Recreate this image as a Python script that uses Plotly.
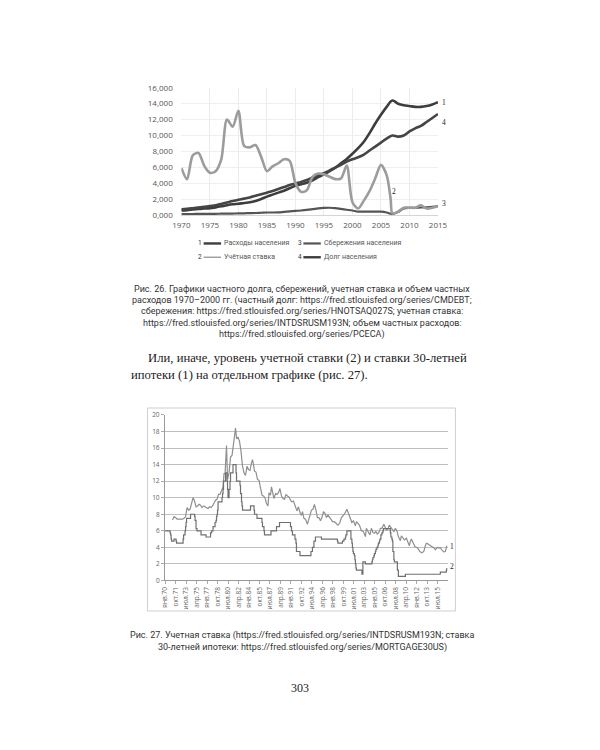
import plotly.graph_objects as go

W, H = 600, 750
def PX(x): return x / W
def PY(y): return 1 - y / H

# ---------------- Chart 1 data (Рис. 26), values in thousands ----------------
years1 = list(range(1970, 2016))
spend = [0.55, 0.6, 0.68, 0.75, 0.8, 0.85, 0.95, 1.08, 1.22, 1.33, 1.4, 1.5, 1.58, 1.75, 2.0,
         2.3, 2.55, 2.8, 3.05, 3.35, 3.65, 3.85, 4.05, 4.35, 4.75, 5.1, 5.5, 5.95, 6.5, 7.05,
         7.7, 8.4, 9.2, 10.3, 11.5, 12.6, 13.6, 14.4, 14.0, 13.8, 13.7, 13.6, 13.6, 13.7, 13.9, 14.2]
debt = [0.7, 0.76, 0.84, 0.93, 1.02, 1.1, 1.22, 1.38, 1.56, 1.75, 1.9, 2.05, 2.2, 2.4, 2.6,
        2.8, 3.0, 3.25, 3.5, 3.75, 3.95, 4.15, 4.4, 4.7, 5.0, 5.25, 5.6, 5.95, 6.3, 6.7,
        7.0, 7.25, 7.6, 8.1, 8.6, 9.1, 9.6, 10.0, 9.85, 10.0, 10.5, 10.9, 11.2, 11.7, 12.2, 12.7]
savings = [0.1, 0.1, 0.11, 0.12, 0.12, 0.13, 0.14, 0.15, 0.16, 0.17, 0.18, 0.2, 0.22, 0.24, 0.27,
           0.3, 0.3, 0.32, 0.38, 0.44, 0.5, 0.55, 0.62, 0.72, 0.82, 0.88, 0.9, 0.85, 0.75, 0.65,
           0.55, 0.42, 0.4, 0.42, 0.42, 0.4, 0.3, 0.12, 0.35, 0.8, 0.9, 0.9, 0.95, 0.95, 1.0, 1.1]
rate_years = [1970, 1971, 1972, 1973, 1974, 1975, 1976, 1977, 1978, 1979, 1980, 1981, 1982, 1983,
              1984, 1985, 1986, 1987, 1988, 1989, 1990, 1991, 1992, 1993, 1994, 1995, 1996, 1997,
              1998, 1999, 2000, 2001, 2002, 2003, 2004, 2005, 2006, 2006.7, 2007, 2008, 2009,
              2010, 2011, 2012, 2013, 2014, 2015]
rate = [5.9, 4.5, 7.5, 7.8, 6.2, 5.3, 5.5, 7.0, 12.0, 11.1, 13.1, 8.7, 8.5, 8.8,
        7.3, 5.5, 6.1, 6.5, 7.0, 6.8, 4.0, 2.9, 3.1, 4.8, 5.2, 5.1, 4.8, 4.5,
        4.6, 6.2, 1.6, 0.8, 1.8, 3.0, 4.6, 6.3, 5.0, 2.0, 0.2, 0.4, 0.9,
        0.9, 0.9, 1.2, 0.8, 0.9, 1.1]
y1_ticks = [0, 2000, 4000, 6000, 8000, 10000, 12000, 14000, 16000]
y1_ticktext = ["0,000", "2,000", "4,000", "6,000", "8,000", "10,000", "12,000", "14,000", "16,000"]
x1_ticks = [1970, 1975, 1980, 1985, 1990, 1995, 2000, 2005, 2010, 2015]

legend1 = [("1", "Расходы населения"), ("3", "Сбережения населения"),
           ("2", "Учётная ставка"), ("4", "Долг населения")]

# ---------------- Chart 2 data (Рис. 27) ----------------
mort_dates = ["1971-04", "1971-07", "1971-10", "1972-01", "1972-06", "1972-12", "1973-03", "1973-06",
              "1973-09", "1973-12", "1974-03", "1974-06", "1974-09", "1974-12", "1975-03", "1975-06",
              "1975-09", "1975-12", "1976-03", "1976-06", "1976-09", "1976-12", "1977-03", "1977-06",
              "1977-09", "1977-12", "1978-03", "1978-06", "1978-09", "1978-12", "1979-03", "1979-06",
              "1979-09", "1979-11", "1980-01", "1980-04", "1980-06", "1980-09", "1980-12", "1981-03",
              "1981-06", "1981-10", "1981-12", "1982-03", "1982-06", "1982-09", "1982-12", "1983-03",
              "1983-06", "1983-09", "1983-12", "1984-03", "1984-06", "1984-08", "1984-10", "1984-12",
              "1985-03", "1985-06", "1985-09", "1985-12", "1986-03", "1986-06", "1986-09", "1986-12",
              "1987-03", "1987-05", "1987-08", "1987-10", "1987-12", "1988-03", "1988-06", "1988-09",
              "1988-12", "1989-03", "1989-06", "1989-09", "1989-12", "1990-03", "1990-06", "1990-09",
              "1990-12", "1991-03", "1991-06", "1991-09", "1991-12", "1992-01", "1992-04", "1992-08",
              "1992-10", "1992-12", "1993-03", "1993-06", "1993-10", "1993-12", "1994-03", "1994-06",
              "1994-09", "1994-12", "1995-03", "1995-06", "1995-09", "1995-12", "1996-03", "1996-06",
              "1996-09", "1996-12", "1997-03", "1997-06", "1997-09", "1997-12", "1998-03", "1998-06",
              "1998-10", "1998-12", "1999-03", "1999-06", "1999-09", "1999-12", "2000-05", "2000-09",
              "2000-12", "2001-03", "2001-06", "2001-10", "2001-12", "2002-03", "2002-06", "2002-10",
              "2002-12", "2003-03", "2003-06", "2003-08", "2003-12", "2004-03", "2004-06", "2004-09",
              "2004-12", "2005-03", "2005-06", "2005-09", "2005-12", "2006-03", "2006-07", "2006-09",
              "2006-12", "2007-03", "2007-06", "2007-09", "2007-12", "2008-03", "2008-06", "2008-09",
              "2008-12", "2009-04", "2009-06", "2009-09", "2009-12", "2010-04", "2010-07", "2010-10",
              "2010-12", "2011-02", "2011-06", "2011-09", "2011-12", "2012-03", "2012-07", "2012-11",
              "2013-03", "2013-07", "2013-09", "2013-12", "2014-03", "2014-06", "2014-09", "2014-12",
              "2015-02", "2015-06", "2015-09", "2015-12", "2016-03", "2016-07", "2016-10", "2017-01"]
mort_vals = [7.3, 7.7, 7.6, 7.4, 7.4, 7.4, 7.5, 7.7,
             8.8, 8.5, 8.6, 9.2, 10.0, 9.6, 8.9, 9.0,
             9.2, 9.1, 8.8, 9.0, 8.9, 8.8, 8.7, 8.9,
             8.8, 9.0, 9.3, 9.7, 9.8, 10.4, 10.4, 11.0,
             11.3, 12.9, 12.9, 16.3, 12.2, 13.0, 14.9, 15.1,
             16.6, 18.4, 17.2, 17.3, 16.8, 15.6, 13.8, 13.0,
             12.7, 13.8, 13.4, 13.3, 14.2, 14.6, 14.0, 13.2,
             13.1, 12.2, 12.1, 11.0, 10.3, 10.2, 10.0, 9.3,
             9.0, 10.6, 10.3, 11.3, 10.6, 9.9, 10.5, 10.4,
             10.6, 11.1, 10.2, 9.9, 9.8, 10.4, 10.2, 10.1,
             9.7, 9.5, 9.6, 9.0, 8.5, 8.4, 8.9, 8.0,
             7.9, 8.3, 7.5, 7.4, 6.8, 7.2, 7.8, 8.5,
             8.6, 9.2, 8.5, 7.6, 7.6, 7.2, 7.6, 8.3,
             8.1, 7.6, 7.9, 7.7, 7.4, 7.1, 7.1, 7.0,
             6.7, 6.7, 7.0, 7.6, 7.8, 8.0, 8.6, 7.9,
             7.4, 7.0, 7.2, 6.6, 7.1, 6.9, 6.7, 6.0,
             6.0, 5.8, 5.3, 6.3, 5.9, 5.5, 6.3, 5.8,
             5.7, 5.9, 5.6, 5.8, 6.3, 6.3, 6.8, 6.4,
             6.1, 6.2, 6.7, 6.4, 6.1, 5.9, 6.3, 6.0,
             5.3, 4.8, 5.4, 5.1, 4.9, 5.1, 4.6, 4.2,
             4.7, 5.0, 4.5, 4.1, 4.0, 3.9, 3.5, 3.35,
             3.5, 4.4, 4.5, 4.4, 4.3, 4.2, 4.1, 3.9,
             3.7, 4.0, 3.9, 3.95, 3.7, 3.45, 3.5, 4.2]

disc_dates = ["1970-01", "1970-11", "1970-12", "1971-01", "1971-02", "1971-07", "1971-11", "1971-12",
              "1973-01", "1973-02", "1973-05", "1973-06", "1973-07", "1973-08", "1974-04", "1974-12",
              "1975-01", "1975-03", "1975-05", "1976-01", "1976-11", "1977-08", "1977-10", "1978-01",
              "1978-05", "1978-07", "1978-08", "1978-09", "1978-10", "1978-11", "1979-07", "1979-08",
              "1979-09", "1979-10", "1980-02", "1980-05", "1980-06", "1980-07", "1980-09", "1980-11",
              "1980-12", "1981-05", "1981-11", "1981-12", "1982-07", "1982-08", "1982-10", "1982-11",
              "1982-12", "1984-04", "1984-11", "1984-12", "1985-05", "1986-03", "1986-04", "1986-07",
              "1986-08", "1987-09", "1988-08", "1989-02", "1990-12", "1991-02", "1991-04", "1991-09",
              "1991-11", "1991-12", "1992-07", "1994-05", "1994-08", "1994-11", "1995-02", "1996-02",
              "1998-10", "1998-11", "1999-08", "1999-11", "2000-02", "2000-03", "2000-05", "2001-01",
              "2001-03", "2001-04", "2001-05", "2001-06", "2001-08", "2001-09", "2001-10", "2001-11",
              "2001-12", "2002-11", "2003-01", "2003-06", "2004-07", "2004-08", "2004-09", "2004-11",
              "2004-12", "2005-02", "2005-03", "2005-05", "2005-07", "2005-08", "2005-10", "2005-11",
              "2006-01", "2006-03", "2006-05", "2006-06", "2007-08", "2007-09", "2007-11", "2007-12",
              "2008-01", "2008-03", "2008-04", "2008-10", "2008-11", "2008-12", "2010-02", "2015-12",
              "2016-12", "2017-01"]
disc_vals = [6.0, 5.75, 5.5, 5.0, 4.75, 5.0, 4.75, 4.5,
             5.0, 5.5, 6.0, 6.5, 7.0, 7.5, 8.0, 7.75,
             7.25, 6.25, 6.0, 5.5, 5.25, 5.75, 6.0, 6.5,
             7.0, 7.25, 7.75, 8.0, 8.5, 9.5, 10.0, 10.5,
             11.0, 12.0, 13.0, 12.0, 11.0, 10.0, 11.0, 12.0,
             13.0, 14.0, 13.0, 12.0, 11.5, 10.5, 9.5, 9.0,
             8.5, 9.0, 8.5, 8.0, 7.5, 7.0, 6.5, 6.0,
             5.5, 6.0, 6.5, 7.0, 6.5, 6.0, 5.5, 5.0,
             4.5, 3.5, 3.0, 3.5, 4.0, 4.75, 5.25, 5.0,
             4.75, 4.5, 4.75, 5.0, 5.25, 5.5, 6.0, 5.0,
             4.5, 4.0, 3.5, 3.25, 3.0, 2.5, 2.0, 1.5,
             1.25, 0.75, 2.25, 2.0, 2.25, 2.5, 2.75, 3.0,
             3.25, 3.5, 3.75, 4.0, 4.25, 4.5, 4.75, 5.0,
             5.5, 5.75, 6.0, 6.25, 5.75, 5.25, 5.0, 4.75,
             3.5, 2.5, 2.25, 1.25, 1.25, 0.5, 0.75, 1.0,
             1.25, 1.5]

x2_ticklabels = ["янв.70", "окт.71", "июл.73", "апр.75", "янв.77", "окт.78", "июл.80", "апр.82",
                 "янв.84", "окт.85", "июл.87", "апр.89", "янв.91", "окт.92", "июл.94", "апр.96",
                 "янв.98", "окт.99", "июл.01", "апр.03", "янв.05", "окт.06", "июл.08", "апр.10",
                 "янв.12", "окт.13", "июл.15"]
month_of = {"янв": 1, "апр": 4, "июл": 7, "окт": 10}
def label_to_date(lbl):
    m, yy = lbl.split(".")
    yy = int(yy)
    year = 1900 + yy if yy >= 50 else 2000 + yy
    return f"{year}-{month_of[m]:02d}-01"
x2_tickvals = [label_to_date(l) for l in x2_ticklabels]
y2_ticks = list(range(0, 21, 2))

# ---------------- Figure ----------------
DARK = "#3d3d3d"
LIGHT = "#9c9c9c"
fig = go.Figure()

fig.add_trace(go.Scatter(x=years1, y=[v * 1000 for v in spend], mode="lines",
                         line=dict(color=DARK, width=2.6, shape="spline"),
                         xaxis="x", yaxis="y", showlegend=False))
fig.add_trace(go.Scatter(x=years1, y=[v * 1000 for v in debt], mode="lines",
                         line=dict(color="#454545", width=2.6, shape="spline"),
                         xaxis="x", yaxis="y", showlegend=False))
fig.add_trace(go.Scatter(x=years1, y=[v * 1000 for v in savings], mode="lines",
                         line=dict(color="#555555", width=2.2, shape="spline"),
                         xaxis="x", yaxis="y", showlegend=False))
fig.add_trace(go.Scatter(x=rate_years, y=[v * 1000 for v in rate], mode="lines",
                         line=dict(color=LIGHT, width=2.6, shape="spline", smoothing=0.8),
                         xaxis="x", yaxis="y", showlegend=False))

fig.add_trace(go.Scatter(x=mort_dates, y=mort_vals, mode="lines", line=dict(color="#8f8f8f", width=1.2),
                         xaxis="x2", yaxis="y2", showlegend=False))
fig.add_trace(go.Scatter(x=disc_dates, y=disc_vals, mode="lines", line=dict(color="#707070", width=1.2, shape="hv"),
                         xaxis="x2", yaxis="y2", showlegend=False))

tickfont1 = dict(family="Open Sans, sans-serif", size=8, color="#555")
tickfont2 = dict(family="Open Sans, sans-serif", size=6.5, color="#666")

fig.update_layout(
    width=W, height=H, margin=dict(l=0, r=0, t=0, b=0),
    paper_bgcolor="white", plot_bgcolor="white",
    xaxis=dict(domain=[PX(178), PX(443)], range=[1970, 2015], tickvals=x1_ticks,
               ticktext=[str(v) for v in x1_ticks], tickfont=tickfont1,
               showgrid=True, gridcolor="#ececec", gridwidth=1, zeroline=False,
               showline=True, linecolor="#d5d5d5",
               ticks="outside", ticklen=3, tickcolor="rgba(0,0,0,0)", anchor="y"),
    yaxis=dict(domain=[PY(212), PY(83)], range=[0, 16000], tickvals=y1_ticks, ticktext=y1_ticktext,
               tickfont=tickfont1, showgrid=True, gridcolor="#efefef", zeroline=False,
               ticks="outside", ticklen=6, tickcolor="rgba(0,0,0,0)", anchor="x"),
    xaxis2=dict(domain=[PX(161), PX(453)], type="date", range=["1969-12-20", "2017-02-20"],
                tickvals=x2_tickvals, ticktext=x2_ticklabels, tickangle=-90, tickfont=tickfont2,
                showgrid=False, zeroline=False, showline=True, linecolor="#9a9a9a",
                ticks="outside", ticklen=3, tickcolor="#aaa", anchor="y2"),
    yaxis2=dict(domain=[PY(583), PY(415)], range=[0, 20], tickvals=y2_ticks, tickfont=tickfont2,
                showgrid=True, gridcolor="#bfbfbf", gridwidth=1, zeroline=False,
                showline=True, linecolor="#9a9a9a", ticks="outside", ticklen=3, tickcolor="#aaa",
                anchor="x2"),
)

shapes = []
annotations = []

def ptext(text, x, y, font, xanchor="center"):
    annotations.append(dict(text=text, x=PX(x), y=PY(y), xref="paper", yref="paper", showarrow=False,
                            borderpad=0, xanchor=xanchor, yanchor="middle", font=font))

# chart 2 border
shapes.append(dict(type="rect", xref="paper", yref="paper", x0=PX(143), x1=PX(461), y0=PY(614), y1=PY(408),
                   line=dict(color="#cfcfcf", width=1)))

# series end labels (placed beside the line ends)
lab_font = dict(family="Liberation Serif, serif", size=7.5, color="#222")
for txt, lx, ly in [("1", 449, 98), ("4", 449, 118), ("2", 398, 188), ("3", 449, 200),
                    ("1", 458, 549), ("2", 458, 569)]:
    ptext(txt, lx, ly, lab_font)

# chart 1 legend (manual)
leg_font = dict(family="Roboto, sans-serif", size=7, color="#555")
num_font = dict(family="Roboto, sans-serif", size=6.5, color="#333")
leg_pos = [(197, 241), (300, 241), (197, 255), (300, 255)]
leg_style = [(DARK, 2.4), ("#555", 2.2), (LIGHT, 1.4), (DARK, 2.4)]
for (num, name), (lx, ly), (col, lw) in zip(legend1, leg_pos, leg_style):
    ptext(num, lx, ly, num_font)
    shapes.append(dict(type="line", xref="paper", yref="paper", x0=PX(lx + 4), x1=PX(lx + 22),
                       y0=PY(ly), y1=PY(ly), line=dict(color=col, width=lw)))
    ptext(name, lx + 24, ly, leg_font, xanchor="left")

# caption 26
cap_font = dict(family="Roboto, sans-serif", size=9, color="#333")
cap26 = ["Рис. 26. Графики частного долга, сбережений, учетная ставка и объем частных",
         "расходов 1970–2000 гг. (частный долг: https://fred.stlouisfed.org/series/CMDEBT;",
         "сбережения: https://fred.stlouisfed.org/series/HNOTSAQ027S; учетная ставка:",
         "https://fred.stlouisfed.org/series/INTDSRUSM193N; объем частных расходов:",
         "https://fred.stlouisfed.org/series/PCECA)"]
for i, line in enumerate(cap26):
    ptext(line, 303, 287 + i * 11.5, cap_font)

# paragraph
par_font = dict(family="Liberation Serif, serif", size=12.7, color="#222")
ptext("Или, иначе, уровень учетной ставки (2) и ставки 30-летней", 142, 357, par_font, xanchor="left")
ptext("ипотеки (1) на отдельном графике (рис. 27).", 125, 374, par_font, xanchor="left")

# caption 27
cap27 = ["Рис. 27. Учетная ставка (https://fred.stlouisfed.org/series/INTDSRUSM193N; ставка",
         "30-летней ипотеки: https://fred.stlouisfed.org/series/MORTGAGE30US)"]
for i, line in enumerate(cap27):
    ptext(line, 303, 639 + i * 12, cap_font)

# page number
ptext("303", 301, 692, dict(family="Liberation Serif, serif", size=12, color="#222"))

fig.update_layout(shapes=shapes, annotations=annotations)
fig.write_html("out.html", config={"displayModeBar": False},
               post_script="document.body.style.margin='0';document.body.style.overflow='hidden';")
